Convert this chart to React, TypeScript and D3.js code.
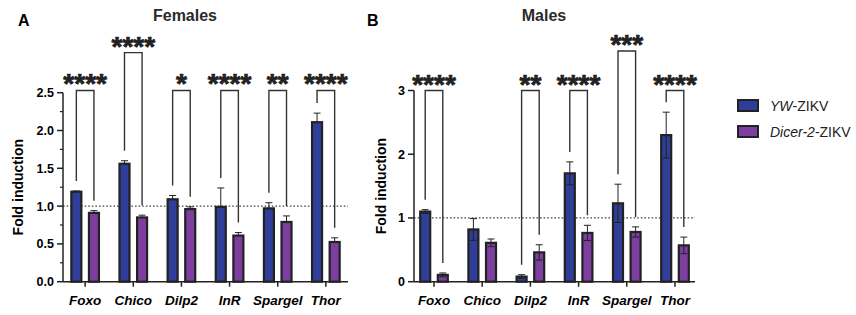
import React from 'react';
import * as d3 from 'd3';

const genes = ['Foxo', 'Chico', 'Dilp2', 'InR', 'Spargel', 'Thor'];

// Females (panel A)
const femaleYW = [1.19, 1.56, 1.09, 0.99, 0.97, 2.11];
const femaleYWErr = [0.01, 0.04, 0.05, 0.25, 0.075, 0.12];
const femaleDicer = [0.91, 0.85, 0.96, 0.61, 0.79, 0.525];
const femaleDicerErr = [0.03, 0.03, 0.03, 0.04, 0.08, 0.055];
const femaleStars = ['****', '****', '*', '****', '**', '****'];
const femaleBracketTop = [2.53, 3.03, 2.53, 2.53, 2.53, 2.53];
const femaleTicks = [0, 0.5, 1, 1.5, 2, 2.5];
const femaleMinorTicks = [0.25, 0.75, 1.25, 1.75, 2.25];

// Males (panel B)
const maleYW = [1.1, 0.82, 0.08, 1.7, 1.23, 2.3];
const maleYWErr = [0.03, 0.17, 0.03, 0.18, 0.3, 0.36];
const maleDicer = [0.107, 0.61, 0.46, 0.765, 0.78, 0.57];
const maleDicerErr = [0.03, 0.06, 0.12, 0.12, 0.08, 0.13];
const maleStars = ['****', '', '**', '****', '***', '****'];
const maleBracketTop: (number | null)[] = [3.0, null, 3.0, 3.0, 3.62, 3.0];
const maleTicks = [0, 1, 2, 3];

const seriesNames = ['YW', 'Dicer-2'];

const BLUE = '#2f3e98';
const PURPLE = '#7c3f9f';
const INK = '#222';
const FONT = '"Liberation Sans", Arial, sans-serif';

interface PanelProps {
  letter: string;
  title: string;
  letterX: number;
  titleX: number;
  axisX: number;
  axisRight: number;
  labelX: number;
  yMax: number;
  yTop: number;
  ticks: number[];
  minorTicks: number[];
  tickFmt: (d: number) => string;
  blue: number[];
  blueErr: number[];
  purple: number[];
  purpleErr: number[];
  stars: string[];
  bracketTop: (number | null)[];
  bothErr: boolean;
  padding: number;
}

const Panel: React.FC<PanelProps> = (p) => {
  const base = 281.7;
  const y = d3.scaleLinear().domain([0, p.yMax]).range([base, p.yTop]);
  const x = d3.scalePoint<string>().domain(genes).range([p.axisX, p.axisRight]).padding(p.padding);
  const off = 8.8;
  const bw = 10;
  const gap = 10;

  const bar = (cx: number, v: number, e: number, fill: string, key: string) => {
    const lo = p.bothErr ? v - e : v;
    return (
      <g key={key}>
        <rect x={cx - bw / 2} y={y(v)} width={bw} height={base - y(v)} fill={fill} stroke={INK} strokeWidth={2.2} />
        <line x1={cx} x2={cx} y1={y(lo)} y2={y(v + e)} stroke={INK} strokeWidth={1} />
        <line x1={cx - 3.5} x2={cx + 3.5} y1={y(v + e)} y2={y(v + e)} stroke={INK} strokeWidth={1} />
        {p.bothErr && <line x1={cx - 3.5} x2={cx + 3.5} y1={y(lo)} y2={y(lo)} stroke={INK} strokeWidth={1} />}
      </g>
    );
  };

  return (
    <g fontFamily={FONT}>
      <text x={p.letterX} y={26} fontSize={16} fontWeight="bold">{p.letter}</text>
      <text x={p.titleX} y={21} fontSize={16} fontWeight="bold" textAnchor="middle" fill="#2a2a2a">{p.title}</text>
      <text transform={`translate(${p.labelX},${(base + p.yTop) / 2}) rotate(-90)`} fontSize={14} fontWeight="bold" textAnchor="middle" dy="0.35em">Fold induction</text>

      {/* reference line at 1 */}
      <line x1={p.axisX} x2={p.axisRight} y1={y(1)} y2={y(1)} stroke="#444" strokeWidth={1.3} strokeDasharray="1.6,2" />

      {genes.map((g, i) => {
        const cx = x(g) as number;
        return (
          <g key={g}>
            {bar(cx - off, p.blue[i], p.blueErr[i], BLUE, 'b')}
            {bar(cx + off, p.purple[i], p.purpleErr[i], PURPLE, 'p')}
          </g>
        );
      })}

      {/* y axis */}
      <line x1={p.axisX} x2={p.axisX} y1={base} y2={p.yTop} stroke={INK} strokeWidth={1.5} />
      {p.ticks.map(t => (
        <g key={t}>
          <line x1={p.axisX - 6} x2={p.axisX} y1={y(t)} y2={y(t)} stroke={INK} strokeWidth={1.5} />
          <text x={p.axisX - 9} y={y(t)} dy="0.36em" textAnchor="end" fontSize={12.5} fontWeight="bold">{p.tickFmt(t)}</text>
        </g>
      ))}
      {p.minorTicks.map(t => (
        <line key={t} x1={p.axisX - 3} x2={p.axisX} y1={y(t)} y2={y(t)} stroke={INK} strokeWidth={1.2} />
      ))}

      {/* x axis */}
      <line x1={p.axisX} x2={p.axisRight} y1={base} y2={base} stroke={INK} strokeWidth={1.5} />
      {genes.map(g => (
        <g key={g}>
          <line x1={x(g)} x2={x(g)} y1={base} y2={base + 5} stroke={INK} strokeWidth={1.5} />
          <text x={x(g)} y={305} textAnchor="middle" fontSize={13.5} fontWeight="bold" fontStyle="italic">{g}</text>
        </g>
      ))}

      {/* significance brackets */}
      {genes.map((g, i) => {
        const top = p.bracketTop[i];
        if (top == null) return null;
        const cx = x(g) as number;
        const xl = cx - off;
        const xr = cx + off;
        const yt = y(top);
        const yl = y(p.blue[i] + p.blueErr[i]) - gap;
        const yr = y(p.purple[i] + p.purpleErr[i]) - gap;
        return (
          <g key={g}>
            <path d={`M${xl},${yl}V${yt}H${xr}V${yr}`} fill="none" stroke="#333" strokeWidth={1.4} />
            <text x={cx} y={yt + 3} textAnchor="middle" fontSize={28} fontWeight="bold" fill="#222" stroke="#222" strokeWidth={0.7}>{p.stars[i]}</text>
          </g>
        );
      })}
    </g>
  );
};

export default function App() {
  const colors = [BLUE, PURPLE];
  return (
    <svg width={856} height={315} style={{ position: 'absolute', left: 0, top: 0, background: '#fff' }}>
      <rect width={856} height={315} fill="#fff" />
      <Panel
        letter="A" title="Females" letterX={18} titleX={185}
        axisX={63} axisRight={348} labelX={18.5}
        yMax={2.5} yTop={92.7} ticks={femaleTicks} minorTicks={femaleMinorTicks}
        tickFmt={d => d.toFixed(1)}
        blue={femaleYW} blueErr={femaleYWErr} purple={femaleDicer} purpleErr={femaleDicerErr}
        stars={femaleStars} bracketTop={femaleBracketTop} bothErr={false} padding={0.46}
      />
      <Panel
        letter="B" title="Males" letterX={367} titleX={544}
        axisX={414} axisRight={695} labelX={381}
        yMax={3} yTop={90.5} ticks={maleTicks} minorTicks={[]}
        tickFmt={d => d.toFixed(0)}
        blue={maleYW} blueErr={maleYWErr} purple={maleDicer} purpleErr={maleDicerErr}
        stars={maleStars} bracketTop={maleBracketTop} bothErr={true} padding={0.415}
      />
      <g fontFamily={FONT} fontSize={14} fill="#222">
        {seriesNames.map((s, i) => (
          <g key={s} transform={`translate(737,${100 + i * 26})`}>
            <rect x={1} y={0} width={20} height={11} fill={colors[i]} stroke={INK} strokeWidth={2} />
            <text x={33} y={11}><tspan fontStyle="italic">{s}</tspan>-ZIKV</text>
          </g>
        ))}
      </g>
    </svg>
  );
}
